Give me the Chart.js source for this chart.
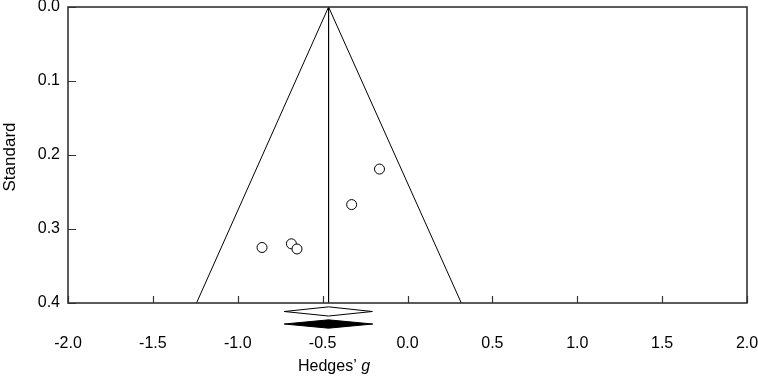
<!DOCTYPE html>
<html>
<head>
<meta charset="utf-8">
<script src="https://cdn.jsdelivr.net/npm/chart.js@4"></script>
<style>
    html, body { margin: 0; padding: 0; background: #fff; }
    canvas { display: block; }
</style>
</head>
<body>
<canvas id="funnelChart" width="758" height="383"></canvas>
<script>
// Studien (Hedges' g und Standardfehler)
const studyG = [-0.165, -0.329, -0.857, -0.684, -0.651];
const studySE = [0.219, 0.267, 0.325, 0.320, 0.327];

// Trichter: Spitze beim Mittelwert, Basis bei SE = 0.4
const funnelG = [-1.243, -0.465, 0.317];
const funnelSE = [0.4, 0.0, 0.4];

// Mittelwertlinie
const meanG = [-0.465, -0.465];
const meanSE = [0.0, 0.4];

// Rauten unter der Achse (offen / gefüllt)
const openDiamondG = [-0.726, -0.465, -0.207, -0.465];
const openDiamondSE = [0.4115, 0.4052, 0.4115, 0.4176];
const filledDiamondG = [-0.726, -0.465, -0.205, -0.465];
const filledDiamondSE = [0.4284, 0.4228, 0.4284, 0.4340];

// Achsenbeschriftung
const xTicks = [-2.0, -1.5, -1.0, -0.5, 0.0, 0.5, 1.0, 1.5, 2.0];
const yTicks = [0.0, 0.1, 0.2, 0.3, 0.4];
const xTitle = "Hedges\u2019 ";
const xTitleItalic = "g";
const yTitle = "Standard";

const FONT = "Liberation Sans, Arial, Helvetica, sans-serif";

function toPoints(xs, ys) {
    return xs.map((x, i) => ({ x: x, y: ys[i] }));
}

// keine automatische Randreserve für Ticklabels
function noLabelPadding(scale) {
    scale.paddingLeft = 0;
    scale.paddingRight = 0;
    scale.paddingTop = 0;
    scale.paddingBottom = 0;
}

// Rahmen, Ticks nach innen, Rauten und Titel
const funnelDecor = {
    id: 'funnelDecor',
    afterDatasetsDraw(chart) {
        const ctx = chart.ctx;
        const a = chart.chartArea;
        const xs = chart.scales.x;
        const ys = chart.scales.y;

        ctx.save();
        // Rauten
        const drawDiamond = (gs, ses, fill) => {
            ctx.beginPath();
            gs.forEach((g, i) => {
                const px = xs.getPixelForValue(g);
                const py = ys.getPixelForValue(ses[i]);
                if (i === 0) ctx.moveTo(px, py); else ctx.lineTo(px, py);
            });
            ctx.closePath();
            ctx.fillStyle = fill;
            ctx.fill();
            ctx.strokeStyle = '#000';
            ctx.lineWidth = 1;
            ctx.stroke();
        };
        drawDiamond(openDiamondG, openDiamondSE, '#fff');
        drawDiamond(filledDiamondG, filledDiamondSE, '#000');

        // Ticks nach innen
        ctx.strokeStyle = '#333';
        ctx.lineWidth = 1.2;
        ctx.beginPath();
        xTicks.forEach(v => {
            const px = Math.round(xs.getPixelForValue(v)) + 0.5;
            ctx.moveTo(px, a.bottom);
            ctx.lineTo(px, a.bottom - 7);
        });
        yTicks.forEach(v => {
            const py = Math.round(ys.getPixelForValue(v)) + 0.5;
            ctx.moveTo(a.left, py);
            ctx.lineTo(a.left + 8, py);
        });
        ctx.stroke();

        // Rahmen
        ctx.lineWidth = 1.6;
        ctx.strokeRect(a.left, a.top, a.right - a.left, a.bottom - a.top);

        // Achsentitel
        ctx.fillStyle = '#000';
        ctx.textBaseline = 'alphabetic';
        ctx.font = '16px ' + FONT;
        const w1 = ctx.measureText(xTitle).width;
        ctx.font = 'italic 16px ' + FONT;
        const w2 = ctx.measureText(xTitleItalic).width;
        const startX = 334 - (w1 + w2) / 2;
        ctx.font = '16px ' + FONT;
        ctx.textAlign = 'left';
        ctx.fillText(xTitle, startX, 371);
        ctx.font = 'italic 16px ' + FONT;
        ctx.fillText(xTitleItalic, startX + w1, 371);

        ctx.translate(15, (a.top + a.bottom) / 2 + 2);
        ctx.rotate(-Math.PI / 2);
        ctx.font = '17px ' + FONT;
        ctx.textAlign = 'center';
        ctx.fillText(yTitle, 0, 0);
        ctx.restore();
    }
};

function initChart() {
    const ctx = document.getElementById('funnelChart').getContext('2d');
    new Chart(ctx, {
        type: 'scatter',
        data: {
            datasets: [
                {
                    label: 'Funnel',
                    data: toPoints(funnelG, funnelSE),
                    showLine: true,
                    borderColor: '#000',
                    borderWidth: 1,
                    pointRadius: 0,
                    fill: false
                },
                {
                    label: 'Mean',
                    data: toPoints(meanG, meanSE),
                    showLine: true,
                    borderColor: '#000',
                    borderWidth: 1,
                    pointRadius: 0,
                    fill: false
                },
                {
                    label: 'Studies',
                    data: toPoints(studyG, studySE),
                    showLine: false,
                    pointRadius: 5,
                    pointBorderWidth: 1,
                    borderColor: '#000',
                    backgroundColor: '#fff',
                    pointBorderColor: '#000',
                    pointBackgroundColor: '#fff'
                }
            ]
        },
        options: {
            responsive: false,
            animation: false,
            devicePixelRatio: 1,
            layout: {
                padding: { left: 0, right: 11, top: 7, bottom: 0 }
            },
            plugins: {
                legend: { display: false },
                tooltip: { enabled: false }
            },
            scales: {
                x: {
                    type: 'linear',
                    min: -2,
                    max: 2,
                    afterFit(scale) { scale.height = 80; noLabelPadding(scale); },
                    afterBuildTicks(scale) { scale.ticks = xTicks.map(v => ({ value: v })); },
                    grid: { display: false, drawTicks: false },
                    border: { display: false },
                    ticks: {
                        padding: 31,
                        color: '#000',
                        font: { family: FONT, size: 16 },
                        maxRotation: 0,
                        callback: v => v.toFixed(1)
                    }
                },
                y: {
                    type: 'linear',
                    reverse: true,
                    min: 0,
                    max: 0.4,
                    afterFit(scale) { scale.width = 68; noLabelPadding(scale); },
                    afterBuildTicks(scale) { scale.ticks = yTicks.map(v => ({ value: v })); },
                    grid: { display: false, drawTicks: false },
                    border: { display: false },
                    ticks: {
                        padding: 8,
                        color: '#000',
                        font: { family: FONT, size: 16 },
                        callback: v => v.toFixed(1)
                    }
                }
            }
        },
        plugins: [funnelDecor]
    });
}

window.onload = initChart;
</script>
</body>
</html>
